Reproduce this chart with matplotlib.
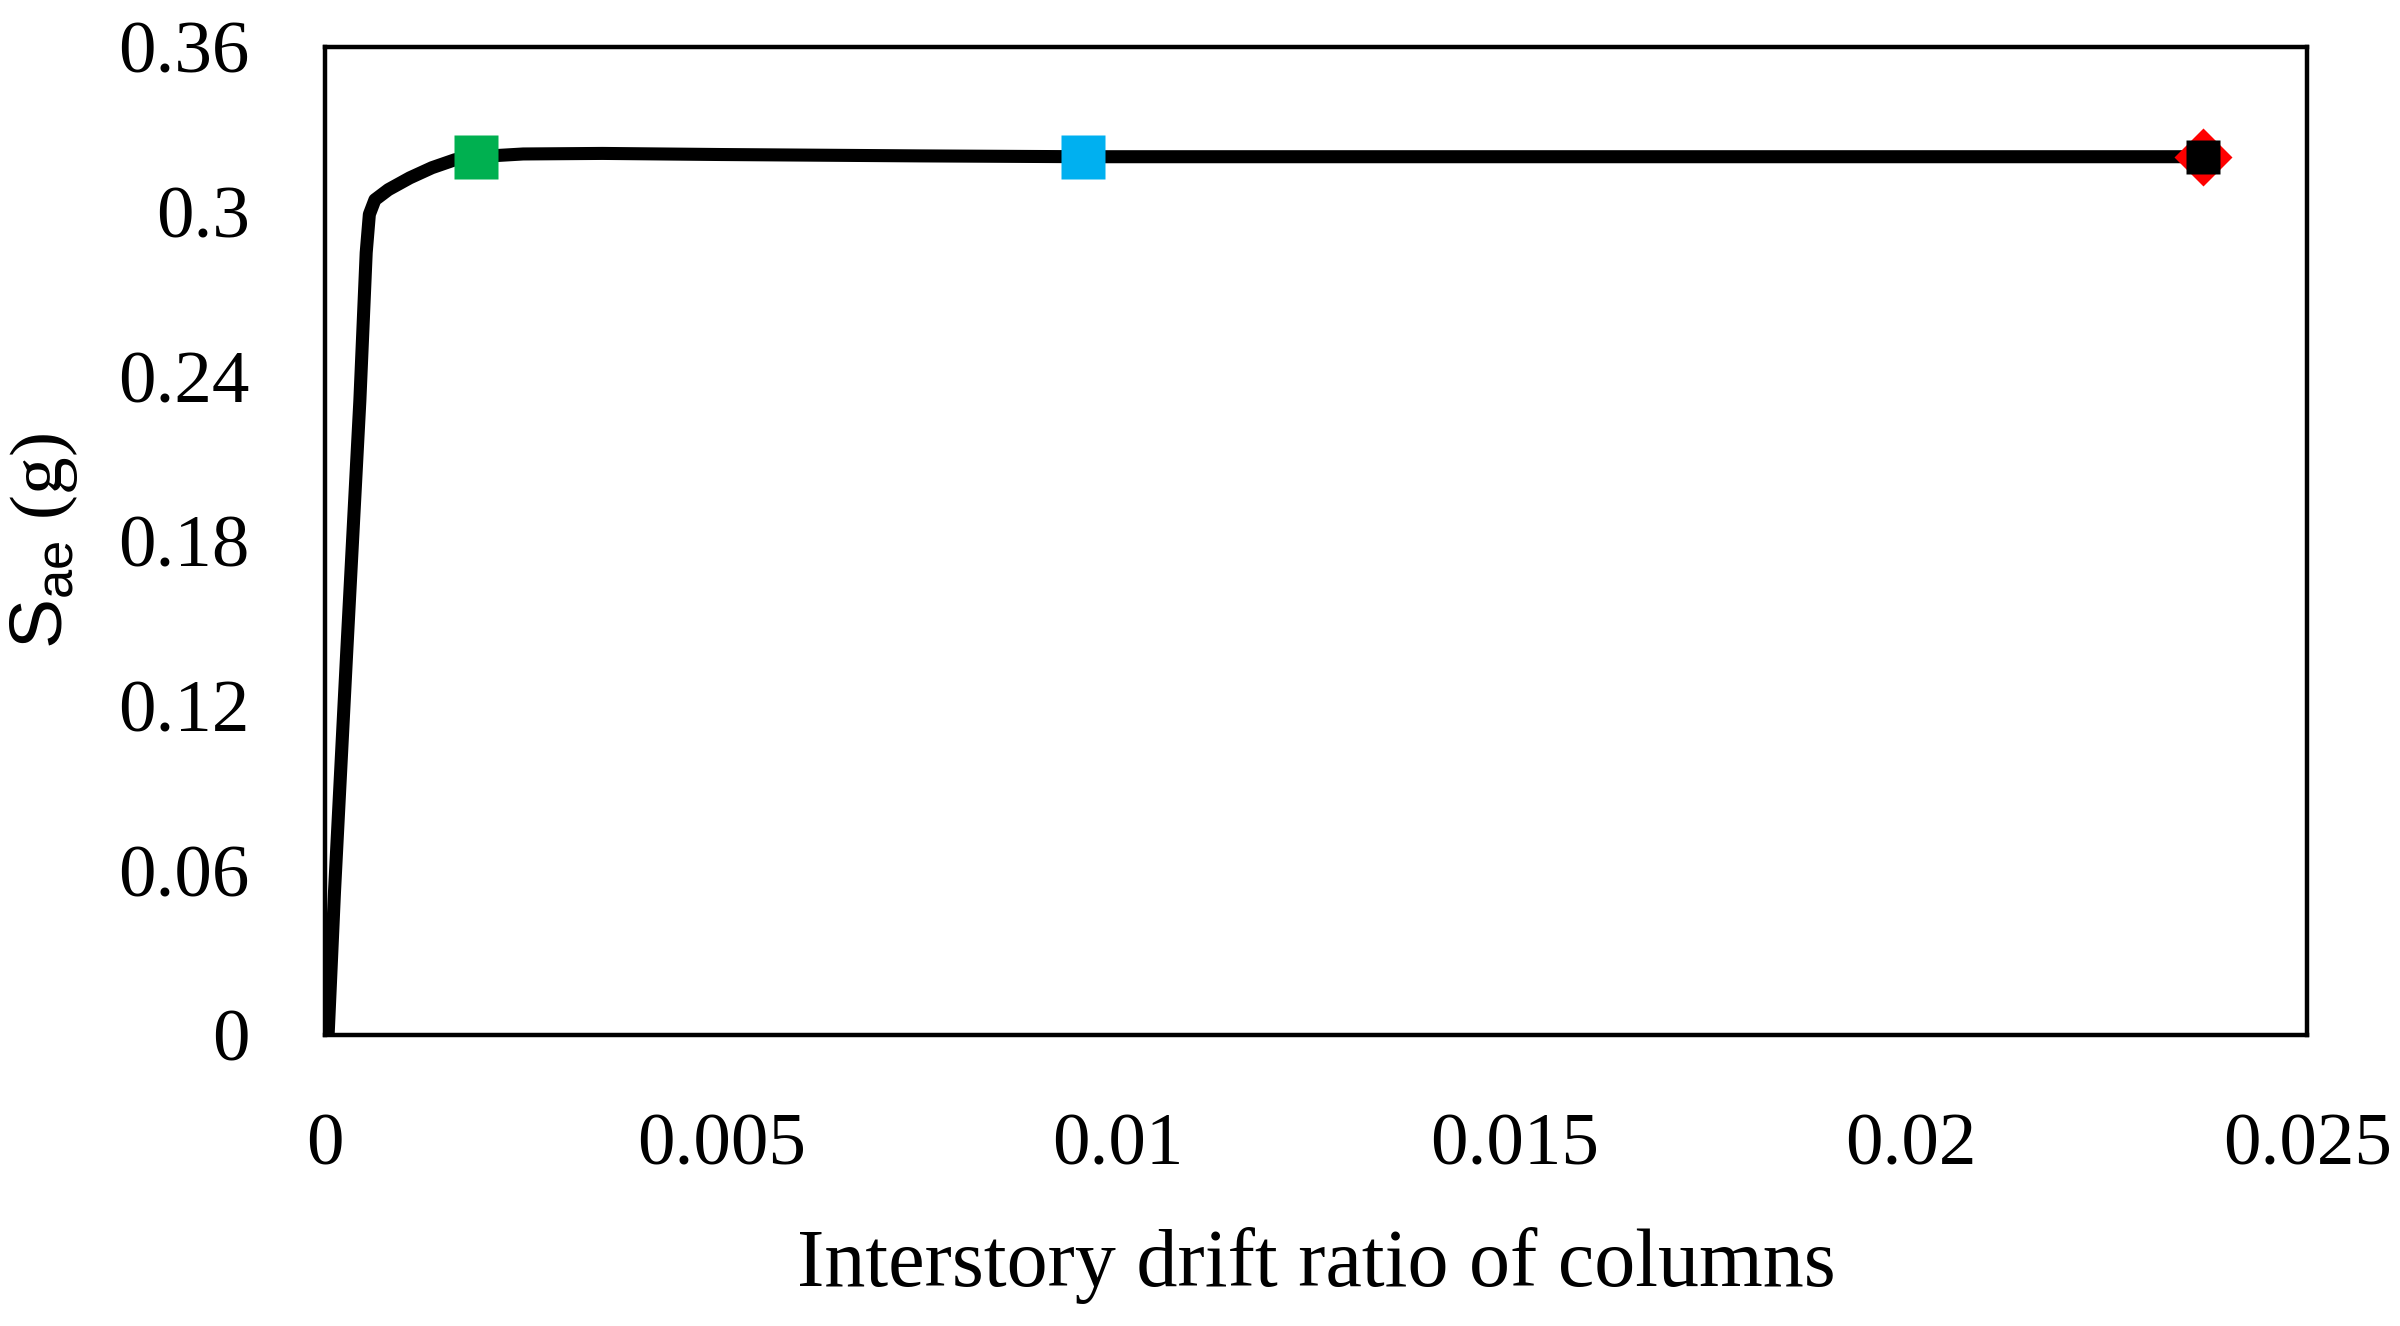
import matplotlib
matplotlib.use("Agg")
import matplotlib.pyplot as plt

# Pushover-type curve: interstory drift ratio vs Sae (g)
drift = [0.0, 0.00004, 0.00012, 0.00027, 0.00044, 0.00052, 0.00056, 0.00063,
         0.00080, 0.00107, 0.00135, 0.00164, 0.00191, 0.0025, 0.0035, 0.005,
         0.0075, 0.00956, 0.0150, 0.02369]
sae = [0.0, 0.0, 0.052, 0.137, 0.231, 0.285, 0.299, 0.3043,
       0.308, 0.3123, 0.3160, 0.3189, 0.3200, 0.3210, 0.3212, 0.3208,
       0.3203, 0.3200, 0.3200, 0.3200]

# Performance points
pt_green = (0.00191, 0.3200)
pt_cyan = (0.00956, 0.3200)
pt_final = (0.02369, 0.3200)

xticks = [0, 0.005, 0.01, 0.015, 0.02, 0.025]
xticklabels = ["0", "0.005", "0.01", "0.015", "0.02", "0.025"]
yticks = [0, 0.06, 0.12, 0.18, 0.24, 0.30, 0.36]
yticklabels = ["0", "0.06", "0.12", "0.18", "0.24", "0.3", "0.36"]

plt.rcParams['font.family'] = ['Liberation Serif', 'DejaVu Serif']
plt.rcParams['mathtext.fontset'] = 'custom'
plt.rcParams['mathtext.rm'] = 'Liberation Sans'
plt.rcParams['mathtext.it'] = 'Liberation Sans'

fig = plt.figure(figsize=(12, 6.63), dpi=200)
ax = fig.add_axes([0.1354, 0.2195, 0.8259, 0.7451])

ax.plot(drift, sae, color='black', lw=4.7, solid_capstyle='round',
        solid_joinstyle='round', zorder=2)
ax.plot(*pt_green, marker='s', ms=15.5, color='#00B050', mec='none', zorder=3, ls='none')
ax.plot(*pt_cyan, marker='s', ms=15.5, color='#00B0F0', mec='none', zorder=3, ls='none')
ax.plot(*pt_final, marker='D', ms=15, color='#FF0000', mec='none', zorder=3, ls='none')
ax.plot(*pt_final, marker='s', ms=12.5, color='black', mec='none', zorder=4, ls='none')

ax.set_xlim(0, 0.025)
ax.set_ylim(0, 0.36)
ax.set_xticks(xticks)
ax.set_xticklabels(xticklabels)
ax.set_yticks(yticks)
ax.set_yticklabels(yticklabels)
ax.tick_params(axis='both', length=0, labelsize=27)
ax.tick_params(axis='x', pad=28)
ax.tick_params(axis='y', pad=27)
for s in ax.spines.values():
    s.set_linewidth(1.6)
    s.set_color('black')

ax.set_xlabel("Interstory drift ratio of columns", fontsize=29.5, labelpad=17)
ax.set_ylabel(r"$\mathrm{S_{ae}}$ (g)", fontsize=27, labelpad=14)

fig.savefig("out.png", dpi=200)
